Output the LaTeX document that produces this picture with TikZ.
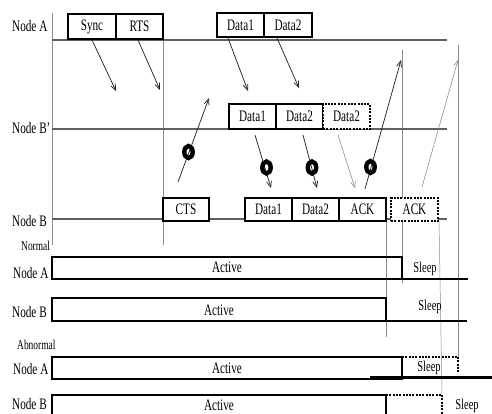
\documentclass[tikz,border=0pt]{standalone}
\usepackage{fontspec}
\setmainfont{Liberation Serif}[FakeStretch=0.7]
\usetikzlibrary{arrows.meta}
\begin{document}
\begin{tikzpicture}[x=1pt,y=-1pt,
  box/.style={draw, line width=2.4pt, inner sep=0pt, minimum height=24pt, font=\fontsize{16}{18}\selectfont},
  dbox/.style={box, dash pattern=on 2pt off 1.3pt},
  lbl/.style={inner sep=0pt, font=\fontsize{16}{18}\selectfont},
  sleep/.style={inner sep=0pt, font=\fontsize{15}{17}\selectfont},
  slbl/.style={inner sep=0pt, font=\fontsize{13.5}{15}\selectfont},
  tline/.style={draw=black!62, line width=1.2pt},
  vline/.style={draw=black!45, line width=0.5pt},
  sig/.style={draw=black!85, line width=0.75pt, -{Straight Barb[length=6pt,width=5pt]}},
  gsig/.style={draw=black!50, line width=0.5pt, -{Straight Barb[length=6pt,width=5pt]}},
  ring/.style={draw=black, line width=4.4pt},
  thick row/.style={draw=black, line width=2.4pt},
  drow/.style={draw=black, line width=2.4pt, dash pattern=on 2pt off 1.3pt},
]
\useasboundingbox (0,0) rectangle (492,413);

% vertical guide lines
\draw[vline] (52,13) -- (52,245);
\draw[vline] (163,13) -- (163,245);
\draw[vline] (402,50) -- (402,283);
\draw[vline] (386,221) -- (386,337);
\draw[vline] (439,221) -- (442,395);
\draw[vline] (458,45) -- (458,357);

% timelines
\draw[tline] (52,40) -- (447,40);
\draw[tline] (52,129) -- (447,129);
\draw[tline] (52,219) -- (447,219);

% row labels
\node[lbl, anchor=west] (la) at (12,26) {Node A};
\node[lbl, anchor=west] (lbp) at (12,128) {Node B’};
\node[lbl, anchor=west] (lb) at (12,221) {Node B};

% Node A boxes
\node[box, fill=white, minimum width=48pt, minimum height=25pt] (sync) at (92,26.5) {Sync};
\node[box, fill=white, minimum width=47pt, minimum height=25pt] (rts) at (139.5,26.5) {RTS};
\node[box, fill=white, minimum width=47pt] (ad1) at (240.5,25) {Data1};
\node[box, fill=white, minimum width=48pt] (ad2) at (288,25) {Data2};

% Node B' boxes
\node[box, fill=white, minimum width=47pt, minimum height=25pt] (bpd1) at (252.5,116.5) {Data1};
\node[box, fill=white, minimum width=47pt, minimum height=25pt] (bpd2) at (299.5,116.5) {Data2};
\node[dbox, fill=white, minimum width=47pt, minimum height=25pt] (bpd3) at (346.5,116.5) {Data2};

% Node B boxes
\node[box, fill=white, minimum width=46pt, minimum height=23pt] (cts) at (186,209.5) {CTS};
\node[box, fill=white, minimum width=47pt, minimum height=23pt] (bd1) at (268.5,209.5) {Data1};
\node[box, fill=white, minimum width=47pt, minimum height=23pt] (bd2) at (315.5,209.5) {Data2};
\node[box, fill=white, minimum width=47pt, minimum height=23pt] (ack) at (362.5,209.5) {ACK};
\node[dbox, fill=white, minimum width=47pt, minimum height=23pt] (ack2) at (414.5,209.5) {ACK};

% arrow coordinates
\coordinate (s1) at (92,40);   \coordinate (e1) at (116,91);
\coordinate (s2) at (138,40);  \coordinate (e2) at (160,90);
\coordinate (s3) at (178,182); \coordinate (e3) at (209,98);
\coordinate (s4) at (228,38);  \coordinate (e4) at (248,91);
\coordinate (s5) at (277,38);  \coordinate (e5) at (299,88);
\coordinate (s6) at (255,135); \coordinate (e6) at (271,188);
\coordinate (s7) at (303,135); \coordinate (e7) at (317,188);
\coordinate (s8) at (338,135); \coordinate (e8) at (355,188);
\coordinate (s9) at (365,189); \coordinate (e9) at (401,60);
\coordinate (s10) at (422,187); \coordinate (e10) at (458,60);

\draw[sig] (s1) -- (e1);
\draw[sig] (s2) -- (e2);
\draw[sig] (s3) -- (e3);
\draw[sig] (s4) -- (e4);
\draw[sig] (s5) -- (e5);
\draw[sig] (s6) -- (e6);
\draw[sig] (s7) -- (e7);
\draw[gsig] (s8) -- (e8);
\draw[sig] (s9) -- (e9);
\draw[gsig] (s10) -- (e10);

% collision rings
\draw[ring] (188.5,152) ellipse [x radius=4.2pt, y radius=6pt];
\draw[ring] (266.5,167.5) ellipse [x radius=4.2pt, y radius=6pt];
\draw[ring] (312,167.5) ellipse [x radius=4.2pt, y radius=6pt];
\draw[ring] (370.5,167) ellipse [x radius=4.2pt, y radius=6pt];

% Normal
\node[slbl, anchor=west] (nrm) at (21,246) {Normal};
\node[lbl, anchor=west] (na) at (13,273) {Node A};
\draw[thick row] (468,279) -- (52,279) -- (52,257) -- (402,257) -- (402,279);
\node[lbl] (naact) at (227,267.5) {Active};
\node[sleep] (nasl) at (425,269) {Sleep};

\node[lbl, anchor=west] (nb) at (12,312) {Node B};
\draw[thick row] (467,321) -- (52,321) -- (52,298) -- (386,298) -- (386,321);
\node[lbl] (nbact) at (219,310) {Active};
\node[sleep] (nbsl) at (430,307) {Sleep};

% Abnormal
\node[slbl, anchor=west] (abn) at (17,345) {Abnormal};
\node[lbl, anchor=west] (aa) at (13,369) {Node A};
\draw[thick row] (52,379) -- (52,357) -- (402,357) -- (402,379) -- cycle;
\draw[thick row] (370,377.5) -- (492,377.5);
\draw[drow] (402,357) -- (458,357) -- (458,373);
\node[lbl] (aaact) at (227,368) {Active};
\node[sleep] (aasl) at (429,368) {Sleep};

\node[lbl, anchor=west] (ab) at (12,404.5) {Node B};
\draw[thick row] (52,414) -- (52,395) -- (386,395) -- (386,414);
\draw[drow] (386,395) -- (442,395) -- (442,414);
\node[lbl] (abact) at (219,405) {Active};
\node[sleep] (absl) at (467,406) {Sleep};
\end{tikzpicture}
\end{document}
